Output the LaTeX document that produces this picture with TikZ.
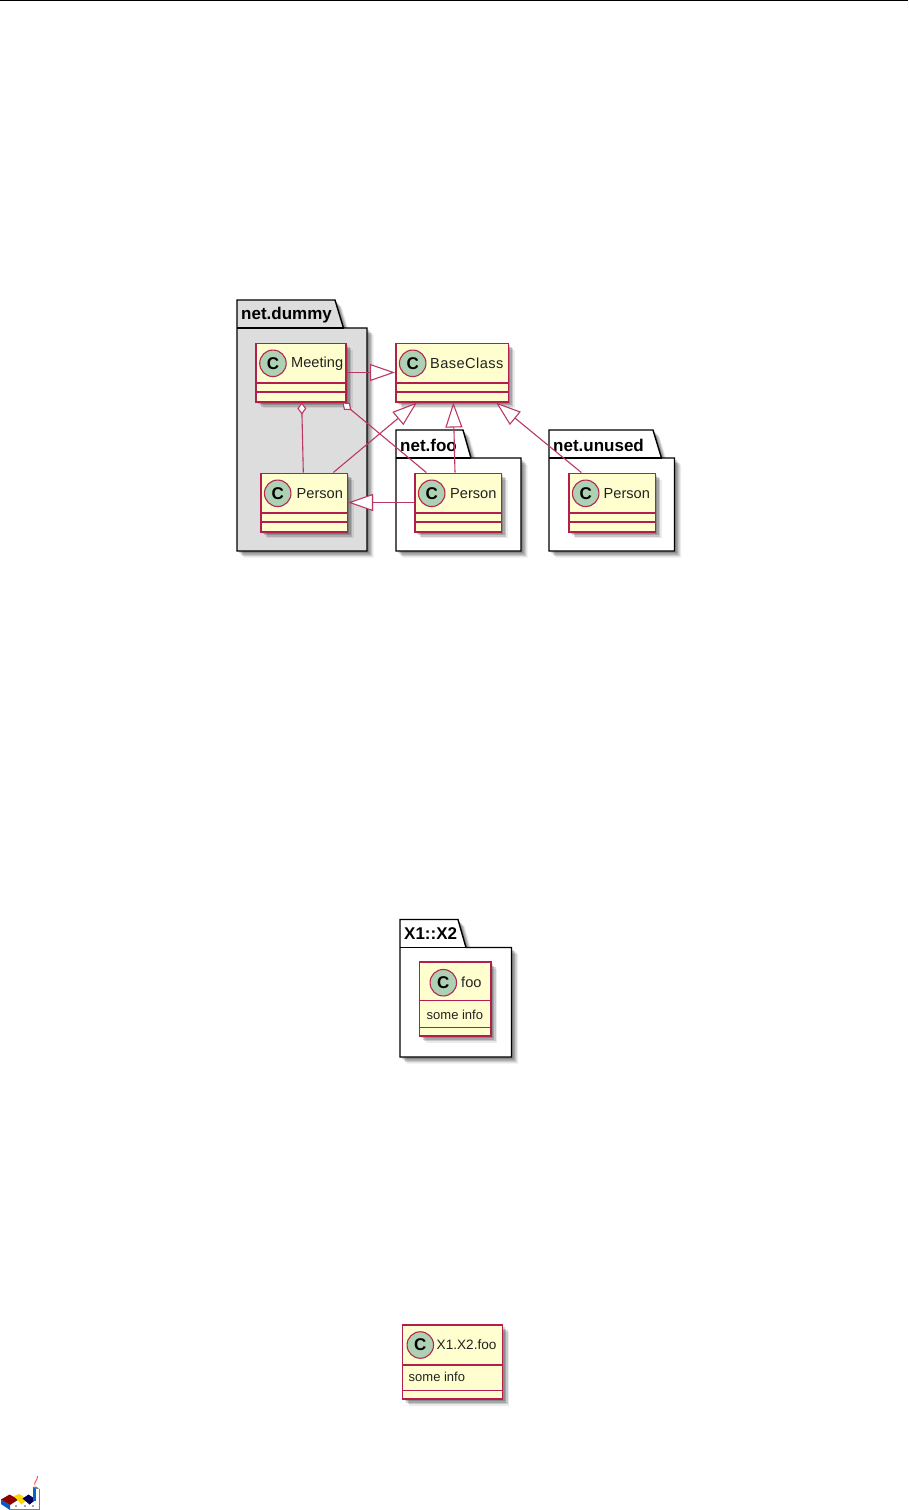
\documentclass[tikz,border=0pt]{standalone}
\usepackage{fontspec}
\setmainfont{Liberation Sans}
\usepackage{xcolor}
\usetikzlibrary{arrows.meta,shadows}
\definecolor{umlred}{HTML}{A80036}
\definecolor{umlfill}{HTML}{FEFECE}
\definecolor{umlcirc}{HTML}{ADD1B2}
\definecolor{pkggray}{HTML}{DDDDDD}
\definecolor{textgray}{HTML}{222222}
\newfontfamily\umlwide[LetterSpace=3]{Liberation Sans}

\begin{document}
\begin{tikzpicture}[
  x=1pt,y=-1pt,
  softshadow/.style={
    general shadow={shadow xshift=2pt,shadow yshift=-2pt,fill=black,opacity=.17},
    general shadow={shadow xshift=3.5pt,shadow yshift=-3.5pt,fill=black,opacity=.17},
    general shadow={shadow xshift=5pt,shadow yshift=-5pt,fill=black,opacity=.15},
    general shadow={shadow xshift=6.5pt,shadow yshift=-6.5pt,fill=black,opacity=.08}},
  pkg/.style={draw=black,line width=1.4pt,fill=white,softshadow},
  pkgtitle/.style={inner sep=0pt,anchor=west,font=\bfseries\fontsize{17}{19}\selectfont},
  cls/.style={draw=umlred!88!white,line width=1.5pt,fill=umlfill,inner sep=0pt,minimum height=58.5pt,softshadow},
  circ/.style={circle,draw=umlred!85!white,line width=1.1pt,fill=umlcirc,minimum size=26.5pt,inner sep=0pt,
    font=\bfseries\fontsize{17}{18}\selectfont},
  lbl/.style={inner sep=0pt,anchor=west,text=textgray,font=\fontsize{14.6}{16}\selectfont},
  info/.style={inner sep=0pt,anchor=west,text=textgray,font=\fontsize{13}{16}\selectfont},
  sep/.style={draw=umlred!88!white,line width=1.3pt},
  arr/.style={draw=umlred!78!white,line width=1.1pt},
  inh/.style={arr,-{Triangle[length=25pt,width=17pt,fill=white,line width=1.1pt]}},
  agg/.style={arr,{Diamond[length=12pt,width=9pt,fill=white,line width=1.1pt]}-}
]
% page rule
\coordinate (ruleL) at (0,0.5);
\coordinate (ruleR) at (908,0.5);
\useasboundingbox (0,0) rectangle (908,1510);
\draw[line width=1pt] (ruleL) -- (ruleR);

% packages of the first diagram
\draw[pkg,fill=pkggray] (237,300) -- (335,300) -- (343.5,328) -- (367,328) -- (367,551) -- (237,551) -- cycle;
\draw[line width=1.4pt] (237,328) -- (343.5,328);
\node[pkgtitle] (dummyT) at (241,315.5) {net.dummy};
\draw[pkg] (396,430) -- (463,430) -- (471,458) -- (521,458) -- (521,551) -- (396,551) -- cycle;
\draw[line width=1.4pt] (396,458) -- (471,458);
\node[pkgtitle] (fooT) at (400,445.5) {net.foo};
\draw[pkg] (549,430) -- (653,430) -- (661.5,458) -- (674.5,458) -- (674.5,551) -- (549,551) -- cycle;
\draw[line width=1.4pt] (549,458) -- (661.5,458);
\node[pkgtitle] (unusedT) at (553,445.5) {net.unused};

% classes
\node[cls,minimum width=90pt] (meeting) at (301,372.5) {};
\node[cls,minimum width=112.5pt] (basecls) at (452,372.5) {};
\node[cls,minimum width=86.5pt] (persDummy) at (304,502.5) {};
\node[cls,minimum width=86.5pt] (persFoo) at (458,502.5) {};
\node[cls,minimum width=86.5pt] (persUnused) at (612,502.5) {};
\foreach \c in {meeting,basecls,persDummy,persFoo,persUnused} {
  \draw[sep] ([yshift=-10.5pt]\c.west) -- ([yshift=-10.5pt]\c.east);
  \draw[sep] ([yshift=-19.5pt]\c.west) -- ([yshift=-19.5pt]\c.east);
  \node[circ] (\c C) at ([xshift=17.7pt,yshift=9.2pt]\c.west) {C};
}
\node[lbl] (meetingL) at (291,363.5) {Meeting};
\node[lbl,font=\umlwide\fontsize{14.6}{16}\selectfont] (baseL) at (430,363.5) {BaseClass};
\node[lbl] (persDummyL) at (296.5,493.5) {Person};
\node[lbl] (persFooL) at (450,493.5) {Person};
\node[lbl] (persUnusedL) at (603.5,493.5) {Person};

% relations
\draw[inh] (meeting) -- (basecls);
\draw[inh] (persFoo) -- (persDummy);
\draw[agg] ([xshift=.7pt]meeting.south) -- ([xshift=-.7pt]persDummy.north);
\draw[agg] ([xshift=-4.5pt]meeting.south east) -- ([xshift=12.3pt]persFoo.north west);
\draw[inh] ([xshift=29.3pt]persDummy.north) -- ([xshift=22pt]basecls.south west);
\draw[inh] ([xshift=-3pt]persFoo.north) -- ([xshift=1.3pt]basecls.south);
\draw[inh] ([xshift=13.3pt]persUnused.north west) -- ([xshift=-13pt]basecls.south east);

% second diagram
\draw[pkg] (400,919.5) -- (458,919.5) -- (466,947.5) -- (511.5,947.5) -- (511.5,1057) -- (400,1057) -- cycle;
\draw[line width=1.4pt] (400,947.5) -- (466,947.5);
\node[pkgtitle] (x1x2T) at (404,934) {X1::X2};
\node[cls,minimum width=71.5pt,minimum height=74pt] (foo) at (455,999) {};
\draw[sep] (foo.west |- 0,1000.5) -- (foo.east |- 0,1000.5);
\draw[sep] (foo.west |- 0,1027.5) -- (foo.east |- 0,1027.5);
\node[circ] (fooC) at (443.3,982.7) {C};
\node[lbl] (fooL) at (461,982.7) {foo};
\node[info] (fooInfo) at (426.5,1014.5) {some info};

% third diagram
\node[cls,minimum width=100pt,minimum height=74pt] (xfoo) at (452.7,1362) {};
\draw[sep] (xfoo.west |- 0,1365) -- (xfoo.east |- 0,1365);
\draw[sep] (xfoo.west |- 0,1390.5) -- (xfoo.east |- 0,1390.5);
\node[circ] (xfooC) at (420.3,1345) {C};
\node[info,font=\fontsize{13.6}{16}\selectfont] (xfooL) at (436.5,1345) {X1.X2.foo};
\node[info] (xfooInfo) at (408.5,1377) {some info};

% logo at the foot of the page
\fill[white] (10,1505) -- (37,1505) -- (37,1509.5) -- (10,1509.5) -- cycle;
\draw[gray,line width=.8pt] (10,1509.5) -- (39.3,1509.5) -- (39.3,1488.5);
\fill[blue!55!cyan!80!black] (1,1499.5) -- (10,1505) -- (10,1510) -- (1,1504) -- cycle;
\fill[red!55!black] (1,1499.5) -- (9.5,1494.5) -- (18.5,1499.5) -- (10,1505) -- cycle;
\fill[yellow!75!orange] (14,1496) -- (19.5,1494) -- (27.5,1499.5) -- (21.5,1504.5) -- cycle;
\fill[blue!35!black] (22.5,1498.5) -- (28.5,1494.5) -- (36,1499.5) -- (29.5,1504.5) -- cycle;
\fill[blue!50!cyan!80!black] (32.5,1487) rectangle (36,1501);
\fill[gray] (32.5,1487) -- (36,1486.5) -- (39.3,1488.5) -- (36,1489) -- cycle;
\draw[red!65!white,line width=1pt] (35,1485) .. controls (33.5,1482) and (38,1480) .. (37.5,1476);
\foreach \dotx in {16,25,33} \fill[black!70] (\dotx,1506) circle (.9);
\end{tikzpicture}
\end{document}
